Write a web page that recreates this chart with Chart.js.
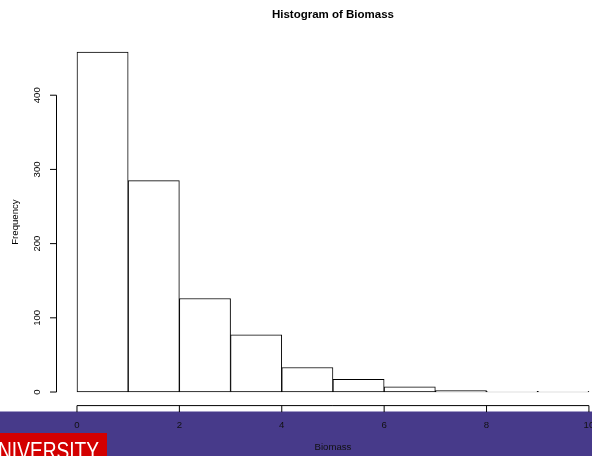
<!DOCTYPE html>
<html>
<head>
<meta charset="utf-8">
<script src="https://cdn.jsdelivr.net/npm/chart.js@4/dist/chart.umd.min.js"></script>
<style>
  html, body { margin: 0; padding: 0; background: #fff; overflow: hidden; }
  #wrap { width: 592px; height: 456px; }
</style>
</head>
<body>
<div id="wrap"><canvas id="c" width="592" height="456"></canvas></div>
<script>
// Histogram bins (left edges, width 1) and their counts
const binStarts = [0, 1, 2, 3, 4, 5, 6, 7, 8, 9];
const counts = [458, 285, 126, 77, 33, 17, 7, 2, 1, 1];
const xTicks = [0, 2, 4, 6, 8, 10];
const yTicks = [0, 100, 200, 300, 400];

const titleText = 'Histogram of Biomass';
const xLabel = 'Biomass';
const yLabel = 'Frequency';
const logoText = 'UNIVERSITY';

const FONT = '"Liberation Sans", Arial, Helvetica, sans-serif';

// Base-graphics style axes, drawn off the plot region with the chart's own scales
const baseAxes = {
  id: 'baseAxes',
  afterDraw(chart) {
    const ctx = chart.ctx;
    const xs = chart.scales.x, ys = chart.scales.y;
    const area = chart.chartArea;
    ctx.save();

    // footer band
    ctx.fillStyle = '#473a8a';
    ctx.fillRect(0, 411, chart.width, chart.height - 411);
    ctx.fillStyle = '#a39cc8';
    ctx.fillRect(0, 411, chart.width, 1);

    ctx.strokeStyle = '#000';
    ctx.lineWidth = 1;
    ctx.fillStyle = '#000';

    // y axis
    const ax = area.left;
    const y0 = ys.getPixelForValue(yTicks[0]);
    const y1 = ys.getPixelForValue(yTicks[yTicks.length - 1]);
    ctx.beginPath();
    ctx.moveTo(ax, y0);
    ctx.lineTo(ax, y1);
    yTicks.forEach(v => {
      const p = ys.getPixelForValue(v);
      ctx.moveTo(ax, p);
      ctx.lineTo(ax - 6.5, p);
    });
    ctx.stroke();
    ctx.font = '9.6px ' + FONT;
    ctx.textAlign = 'center';
    ctx.textBaseline = 'middle';
    yTicks.forEach(v => {
      const p = ys.getPixelForValue(v);
      ctx.save();
      ctx.translate(ax - 19.5, p);
      ctx.rotate(-Math.PI / 2);
      ctx.fillText(String(v), 0, 0);
      ctx.restore();
    });
    ctx.save();
    ctx.translate(ax - 41.5, (area.top + area.bottom) / 2);
    ctx.rotate(-Math.PI / 2);
    ctx.fillText(yLabel, 0, 0);
    ctx.restore();

    // x axis
    const ay = area.bottom;
    ctx.beginPath();
    ctx.moveTo(xs.getPixelForValue(xTicks[0]), ay);
    ctx.lineTo(xs.getPixelForValue(xTicks[xTicks.length - 1]), ay);
    xTicks.forEach(v => {
      const p = xs.getPixelForValue(v);
      ctx.moveTo(p, ay);
      ctx.lineTo(p, ay + 6.5);
    });
    ctx.stroke();
    ctx.fillStyle = '#111';
    xTicks.forEach(v => {
      ctx.fillText(String(v), xs.getPixelForValue(v), ay + 19.5);
    });
    const midX = (xs.getPixelForValue(-0.4) + xs.getPixelForValue(10.4)) / 2;
    ctx.fillText(xLabel, midX, ay + 42);

    // title
    ctx.fillStyle = '#000';
    ctx.font = 'bold 11.5px ' + FONT;
    ctx.fillText(titleText, midX, 14.5);

    // logo box
    ctx.fillStyle = '#d30000';
    ctx.fillRect(0, 433, 107, chart.height - 433);
    ctx.beginPath();
    ctx.rect(0, 433, 107, chart.height - 433);
    ctx.clip();
    ctx.fillStyle = '#fff';
    ctx.font = '23px "Liberation Sans Narrow", "Liberation Sans", Arial, sans-serif';
    ctx.textAlign = 'left';
    ctx.textBaseline = 'alphabetic';
    const full = ctx.measureText(logoText).width;
    const first = ctx.measureText(logoText[0]).width;
    const sx = 101 / (full - first);
    ctx.translate(-first * sx - 2, 459);
    ctx.scale(sx, 1);
    ctx.fillText(logoText, 0, 0);

    ctx.restore();
  }
};

new Chart(document.getElementById('c'), {
  type: 'bar',
  data: {
    datasets: [{
      data: counts.map((c, i) => ({ x: binStarts[i] + 0.5, y: c })),
      backgroundColor: '#ffffff',
      borderColor: '#000000',
      borderWidth: 1,
      borderSkipped: false,
      barPercentage: 1,
      categoryPercentage: 1
    }]
  },
  options: {
    responsive: false,
    animation: false,
    devicePixelRatio: 1,
    layout: { padding: { left: 56.5, top: 38.6, right: 0, bottom: 50.4 } },
    plugins: { legend: { display: false }, tooltip: { enabled: false }, title: { display: false } },
    scales: {
      x: { type: 'linear', offset: false, min: -0.4, max: 10.06, display: false, grid: { display: false } },
      y: { type: 'linear', min: -18.3, max: 476.3, display: false, grid: { display: false } }
    }
  },
  plugins: [baseAxes]
});
</script>
</body>
</html>
